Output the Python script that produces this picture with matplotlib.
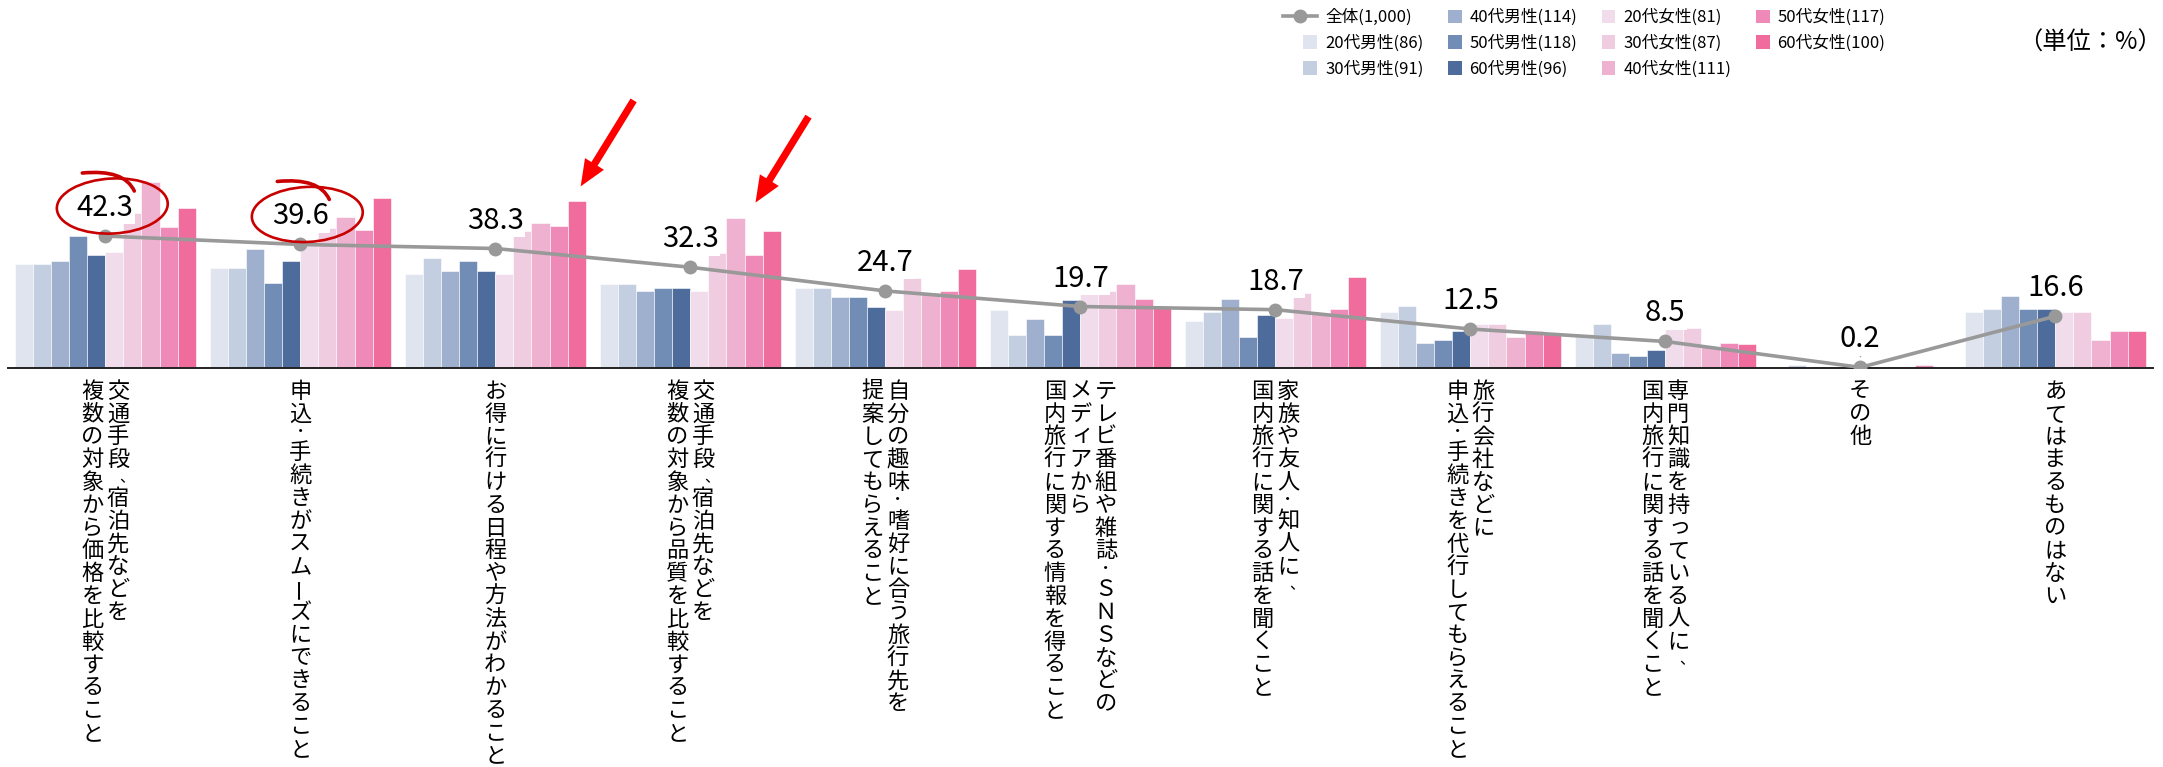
import matplotlib
matplotlib.use("Agg")
import matplotlib.pyplot as plt
import numpy as np
from matplotlib.patches import Ellipse, Rectangle, FancyArrowPatch, PathPatch
from matplotlib.path import Path
from matplotlib.transforms import IdentityTransform
from matplotlib.legend_handler import HandlerPatch
from matplotlib.lines import Line2D

plt.rcParams['font.family'] = ['Noto Sans CJK JP', 'DejaVu Sans']

W, H = 2163, 767
DPI = 100

# 項目（縦書き、右の列から順に）
categories = [
    ["交通手段、宿泊先などを", "複数の対象から価格を比較すること"],
    ["申込・手続きがスムーズにできること"],
    ["お得に行ける日程や方法がわかること"],
    ["交通手段、宿泊先などを", "複数の対象から品質を比較すること"],
    ["自分の趣味・嗜好に合う旅行先を", "提案してもらえること"],
    ["テレビ番組や雑誌・ＳＮＳなどの", "メディアから", "国内旅行に関する情報を得ること"],
    ["家族や友人・知人に、", "国内旅行に関する話を聞くこと"],
    ["旅行会社などに", "申込・手続きを代行してもらえること"],
    ["専門知識を持っている人に、", "国内旅行に関する話を聞くこと"],
    ["その他"],
    ["あてはまるものはない"],
]

groups = ["20代男性", "30代男性", "40代男性", "50代男性", "60代男性",
          "20代女性", "30代女性", "40代女性", "50代女性", "60代女性"]
sizes = [86, 91, 114, 118, 96, 81, 87, 111, 117, 100]
colors = ["#dfe4ef", "#c4cee1", "#9eb0cd", "#718db5", "#4d6b9b",
          "#f0dcea", "#f0cce0", "#efb1d0", "#ef89b7", "#ef6c9c"]

total = [42.3, 39.6, 38.3, 32.3, 24.7, 19.7, 18.7, 12.5, 8.5, 0.2, 16.6]

m20 = [33.2, 32.2, 30.2, 26.9, 25.8, 18.7, 15.0, 17.9, 10.8, 0.0, 17.9]
m30 = [33.2, 32.2, 35.3, 26.9, 25.8, 10.7, 17.8, 20.0, 14.0, 1.1, 18.8]
m40 = [34.3, 38.2, 31.1, 24.8, 22.9, 15.7, 22.0, 7.9, 4.9, 0.0, 23.0]
m50 = [42.4, 27.1, 34.3, 25.8, 22.9, 10.7, 9.9, 9.0, 3.9, 0.0, 18.8]
m60 = [36.3, 34.2, 31.1, 25.8, 19.7, 21.8, 16.9, 11.9, 5.8, 0.0, 18.8]
f20 = [37.3, 39.5, 30.2, 24.8, 18.7, 24.8, 16.0, 14.0, 12.9, 0.0, 17.9]
f30 = [49.7, 45.0, 43.8, 37.0, 28.8, 24.8, 23.9, 14.0, 12.9, 0.0, 17.9]
f40 = [59.6, 48.5, 46.5, 48.2, 23.9, 26.9, 17.6, 10.0, 6.8, 0.0, 8.9]
f50 = [45.3, 44.3, 45.4, 36.1, 24.8, 22.0, 18.9, 11.9, 7.9, 0.9, 11.9]
f60 = [51.4, 54.5, 53.4, 44.0, 31.8, 19.9, 29.1, 11.1, 7.8, 0.0, 11.9]
series = [m20, m30, m40, m50, m60, f20, f30, f40, f50, f60]

# 丸で囲む項目、矢印で示すバー（項目番号, 系列番号, 矢印先端の横ずれpx）
circled = [0, 1]
arrowed = [(2, 9, 4), (3, 7, 20)]

fig = plt.figure(figsize=(W / DPI, H / DPI), dpi=DPI)
ax = fig.add_axes([7.8 / W, (H - 368) / H, 2145 / W, 312 / H])
ax.set_xlim(-0.5, 10.5)
ax.set_ylim(0, 100)

x = np.arange(len(categories))
bw = 0.0927
for j, vals in enumerate(series):
    ax.bar(x + (j - 4.5) * bw, vals, width=bw, color=colors[j],
           edgecolor='white', linewidth=0.4, zorder=2)
ax.plot(x, total, color='#999999', lw=2.6, marker='o', ms=9, zorder=3)

for s in ['top', 'left', 'right']:
    ax.spines[s].set_visible(False)
ax.spines['bottom'].set_linewidth(1.4)
ax.spines['bottom'].set_color('#222222')
ax.set_xticks([])
ax.set_yticks([])

# 全体の値ラベル
for xi, v in zip(x, total):
    ax.annotate(f"{v:.1f}", xy=(xi, v), xytext=(0, 20), textcoords='offset pixels',
                ha='center', va='baseline', fontsize=21, zorder=5,
                bbox=dict(boxstyle='square,pad=0.05', fc='white', ec='none'))
    if v < 1:
        ax.plot([xi, xi], [v + 3.6, v + 4.6], color='#999999', lw=1, zorder=3)

# 縦書きの項目名（1文字ずつ配置、句読点は詰めて送る）
fs = 16
pitch = 22.8
col_gap = 25.5
small = set("ぁぃぅぇぉっゃゅょァィゥェォッャュョ")
for i, lines in enumerate(categories):
    n = len(lines)
    for j, line in enumerate(lines):
        dx = ((n - 1) / 2 - j) * col_gap
        pos = 378.0 - 368.0
        for ch in line:
            adv = pitch * 0.7 if ch in "、・" else pitch
            cy = pos + adv / 2
            pos += adv
            if ch == "ー":
                ax.annotate(ch, xy=(i, 0), xytext=(dx, -cy), textcoords='offset pixels',
                            ha='center', va='center', rotation=90, fontsize=fs,
                            annotation_clip=False)
            elif ch == "・":
                ax.annotate(ch, xy=(i, 0), xytext=(dx, -cy), textcoords='offset pixels',
                            ha='center', va='center', fontsize=11,
                            annotation_clip=False)
            elif ch == "、":
                ax.annotate(ch, xy=(i, 0), xytext=(dx + 9, -cy), textcoords='offset pixels',
                            ha='center', va='center', fontsize=11,
                            annotation_clip=False)
            else:
                sx = sy = 2 if ch in small else 0
                ax.annotate(ch, xy=(i, 0), xytext=(dx + sx, -(cy + 8.4) + sy),
                            textcoords='offset pixels', ha='center', va='baseline',
                            fontsize=fs, annotation_clip=False)

# 赤丸（手書き風）
def px(xd, yd):
    return ax.transData.transform((xd, yd))

red_dark = '#c80000'
for i in circled:
    cx, cy = px(x[i], total[i])
    cx, cy = cx + 7, cy + 30
    fig.add_artist(Ellipse((cx, cy), 111, 55, angle=3, fill=False,
                           ec=red_dark, lw=1.9, transform=IdentityTransform()))
    verts = [(cx - 30, cy + 33), (cx + 12, cy + 37), (cx + 22, cy + 15)]
    path = Path(verts, [Path.MOVETO, Path.CURVE3, Path.CURVE3])
    fig.add_artist(PathPatch(path, fill=False, ec=red_dark, lw=2.6,
                             capstyle='round', transform=IdentityTransform()))

# 赤い矢印
for gi, sj, tx in arrowed:
    bx, by = px(x[gi] + (sj - 4.5) * bw, series[sj][gi])
    tip = (bx + tx, by + 15)
    tail = (tip[0] + 53, tip[1] + 86)
    fig.add_artist(FancyArrowPatch(tail, tip, transform=IdentityTransform(),
                                   arrowstyle='simple,head_length=0.95,head_width=0.8,tail_width=0.26',
                                   mutation_scale=20, color='#ff0000', lw=0,
                                   shrinkA=0, shrinkB=0))

# 凡例（四角は文字側に寄せる）
class SquareHandler(HandlerPatch):
    def create_artists(self, legend, orig_handle, xdescent, ydescent,
                       width, height, fontsize, trans):
        s = height
        r = Rectangle((-xdescent + width - s, -ydescent), s, s,
                      facecolor=orig_handle.get_facecolor(), edgecolor='none',
                      transform=trans)
        return [r]

handles = [Line2D([], [], color='#999999', lw=2.6, marker='o', ms=9)]
labels = ["全体(1,000)"]
for g, n, c in zip(groups, sizes, colors):
    handles.append(Rectangle((0, 0), 1, 1, facecolor=c))
    labels.append(f"{g}({n})")

fig.legend(handles, labels, loc='upper left', ncol=4,
           bbox_to_anchor=(1283 / W, 1 - 9 / H), bbox_transform=fig.transFigure,
           frameon=False, fontsize=12, borderpad=0, borderaxespad=0,
           handlelength=2.04, handleheight=0.9, handletextpad=0.48,
           labelspacing=0.52, columnspacing=0.25,
           handler_map={Rectangle: SquareHandler()})

fig.text(2090 / W, 1 - 43 / H, "（単位：%）", ha='center', va='center', fontsize=17.5)

fig.savefig('out.png', dpi=DPI)
